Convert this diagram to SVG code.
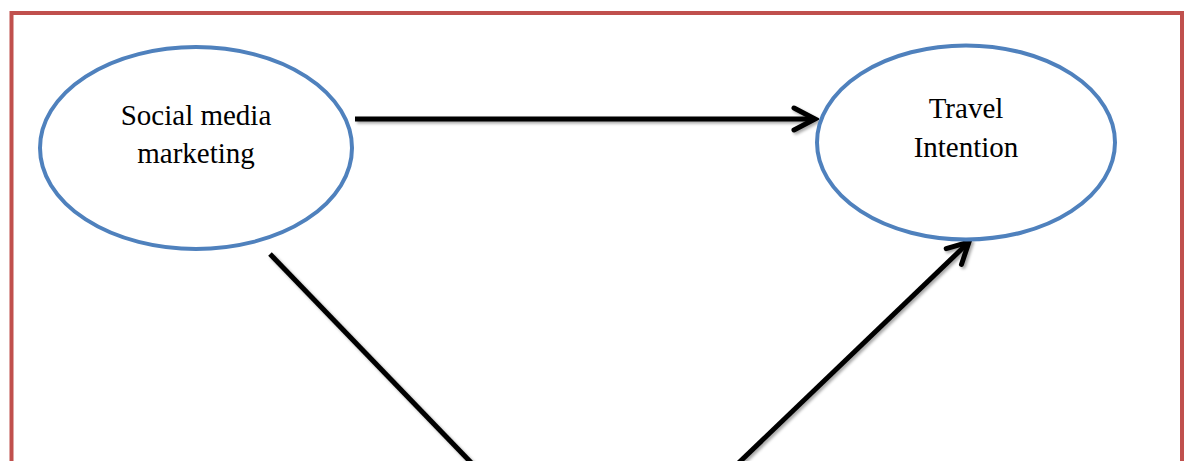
<svg xmlns="http://www.w3.org/2000/svg" width="1186" height="461" viewBox="0 0 1186 461">
  <defs>
    <style>
      .frame { fill: none; stroke: #C0504D; stroke-width: 4; }
      .node { fill: #FFFFFF; stroke: #4F81BD; stroke-width: 4; }
      .label { font-family: "Liberation Serif", "Times New Roman", serif; font-size: 29px; fill: #000000; text-anchor: middle; }
      .conn { fill: none; stroke: #000000; stroke-width: 5; }
    </style>
    <filter id="shadow" x="-10%" y="-10%" width="130%" height="130%">
      <feDropShadow dx="2" dy="2" stdDeviation="1.5" flood-color="#000000" flood-opacity="0.35"/>
    </filter>
    <marker id="arrow" markerUnits="userSpaceOnUse" viewBox="-26 -15 30 30" refX="0" refY="0" markerWidth="30" markerHeight="30" orient="auto">
      <path d="M-21,-11 L0,0 L-21,11" fill="none" stroke="#000000" stroke-width="5" stroke-linecap="round" stroke-linejoin="miter"/>
    </marker>
  </defs>
  <rect width="1186" height="461" fill="#FFFFFF"/>
  <rect class="frame" x="11.5" y="13" width="1170.5" height="470"/>

  <g id="connectors" filter="url(#shadow)">
    <line class="conn" x1="355" y1="119" x2="815" y2="119" marker-end="url(#arrow)"/>
    <line class="conn" x1="270" y1="254" x2="485" y2="477"/>
    <line class="conn" x1="726" y1="475" x2="969" y2="242" marker-end="url(#arrow)"/>
  </g>

  <g id="node-social-media-marketing">
    <ellipse class="node" cx="196" cy="148" rx="156" ry="101"/>
    <text class="label" x="196" y="125">Social media</text>
    <text class="label" x="196" y="163">marketing</text>
  </g>

  <g id="node-travel-intention">
    <ellipse class="node" cx="966" cy="142.5" rx="149" ry="97"/>
    <text class="label" x="966" y="118">Travel</text>
    <text class="label" x="966" y="157">Intention</text>
  </g>
</svg>
